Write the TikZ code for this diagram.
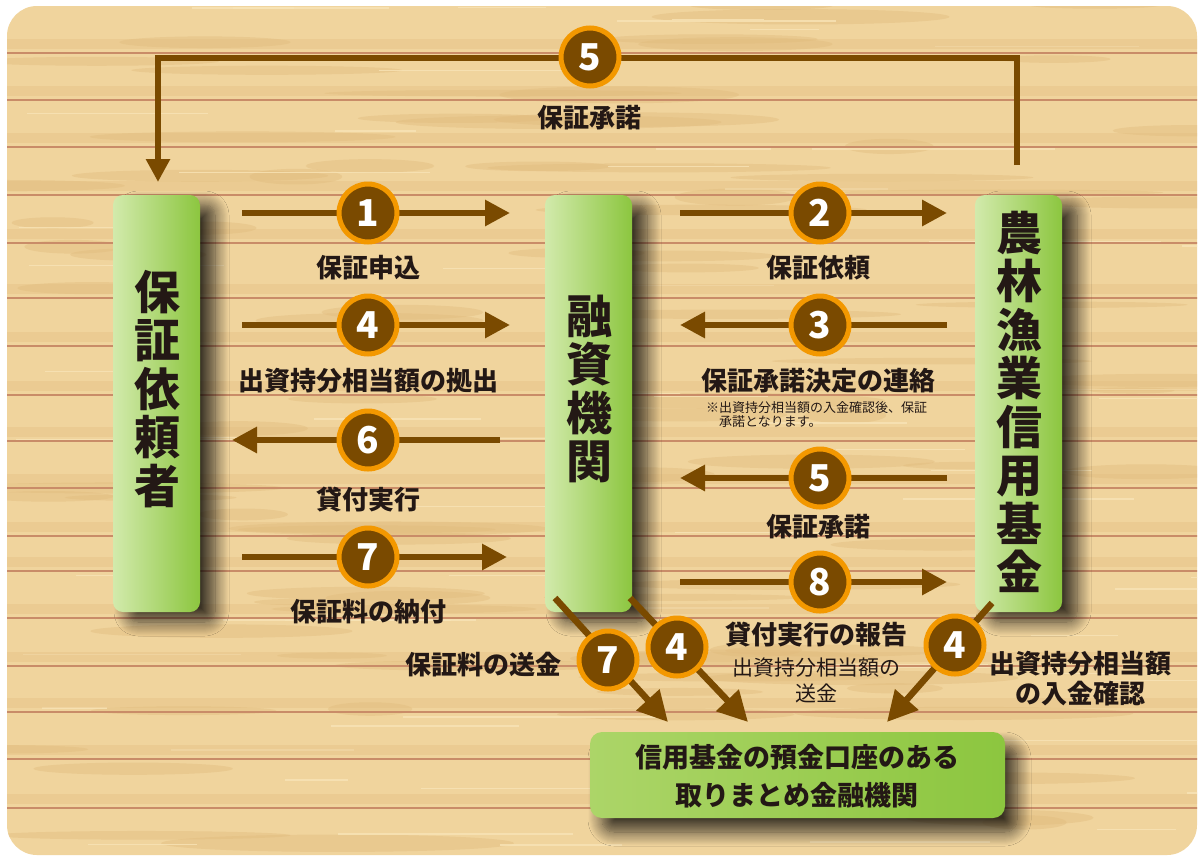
\documentclass[tikz,border=0pt]{standalone}
\usepackage{fontspec}
\newfontfamily\jp{Noto Sans CJK JP}
\usetikzlibrary{arrows.meta,shadows.blur}
\definecolor{wood}{RGB}{240,212,157}
\definecolor{woodd}{RGB}{226,188,126}
\definecolor{woodl}{RGB}{248,228,182}
\definecolor{seam}{RGB}{201,140,104}
\definecolor{brn}{RGB}{122,74,0}
\definecolor{org}{RGB}{243,152,0}
\definecolor{ink}{RGB}{35,24,21}
\definecolor{gL}{RGB}{210,234,172}
\definecolor{gM}{RGB}{236,245,218}
\definecolor{gR}{RGB}{140,198,63}
\definecolor{gB}{RGB}{172,213,104}
\tikzset{
 arr/.style={draw=brn, line width=6pt, -{Triangle[length=25pt,width=25pt]}},
 darr/.style={draw=brn, line width=6.5pt, -{Triangle[length=30pt,width=30pt]}},
 num/.style={circle, fill=brn, draw=org, line width=5pt, minimum size=58pt, inner sep=0pt, text=white, font=\jp\bfseries\fontsize{37}{37}\selectfont},
 lbl/.style={text=ink, inner sep=0pt, font=\jp\bfseries\fontsize{26}{30}\selectfont, align=center},
 small/.style={text=ink, inner sep=0pt, anchor=west, font=\jp\fontsize{13}{15}\selectfont},
 sublbl/.style={text=ink, inner sep=0pt, font=\jp\fontsize{21}{26}\selectfont, align=center},
 vbox/.style={rounded corners=10pt, left color=gL, right color=gR, minimum width=87pt, minimum height=417pt, inner sep=0pt,
   blur shadow={shadow xshift=15pt, shadow yshift=-10pt, shadow opacity=75, shadow blur steps=14, shadow blur radius=14pt}},
 hbox/.style={rounded corners=12pt, left color=gB, middle color=gM, right color=gR, minimum width=415pt, minimum height=86pt, inner sep=0pt,
   blur shadow={shadow xshift=12pt, shadow yshift=-14pt, shadow opacity=75, shadow blur steps=14, shadow blur radius=14pt}},
 vtext/.style={text=ink, inner sep=0pt, font=\jp\bfseries\fontsize{46}{48.5}\selectfont, align=center},
 btext/.style={text=ink, inner sep=0pt, font=\jp\bfseries\fontsize{27}{38}\selectfont, align=center}
}
\begin{document}
\begin{tikzpicture}[x=1pt,y=-1pt]
\useasboundingbox (0,0) rectangle (1198,857);
\fill[white] (0,0) rectangle (1198,857);
% wooden background
\begin{scope}
\clip[rounded corners=30pt] (7,6) rectangle (1197,855);
\fill[wood] (0,0) rectangle (1198,857);
\pgfmathsetseed{11}
\foreach \i in {1,...,90}{
  \pgfmathsetmacro\bx{rnd*1200}
  \pgfmathsetmacro\by{rnd*857}
  \pgfmathsetmacro\bw{40+rnd*140}
  \pgfmathsetmacro\bh{3+rnd*6}
  \fill[woodd,opacity=0.45] (\bx,\by) ellipse [x radius=\bw, y radius=\bh];
}
\foreach \i in {1,...,70}{
  \pgfmathsetmacro\bx{rnd*1200}
  \pgfmathsetmacro\by{rnd*857}
  \pgfmathsetmacro\bw{60+rnd*200}
  \draw[woodl,line width=1.5pt,opacity=0.8] (\bx,\by) -- ++(\bw,0);
}
\foreach \y in {53,100,147,195,243,298,346,395,441,488,536,571,618,666,712,759,808}{
  \fill[woodd,opacity=0.35] (0,\y-14) rectangle (1198,\y-4);
  \draw[seam,line width=2.5pt] (0,\y) -- (1198,\y);
}
\end{scope}

% boxes
\node[vbox] (L) at (156.5,403.5) {};
\node[vbox] (M) at (588.5,403.5) {};
\node[vbox] (R) at (1018.5,403.5) {};
\node[hbox] (B) at (797.5,775) {};
\node[vtext] (Lt) at (157,389) {保\\証\\依\\頼\\者};
\node[vtext] (Mt) at (589,389) {融\\資\\機\\関};
\node[vtext] (Rt) at (1019,402) {農\\林\\漁\\業\\信\\用\\基\\金};
\node[btext] (Bt) at (797,776) {信用基金の預金口座のある\\取りまとめ金融機関};

% arrow end points
\coordinate (a1s) at (242,213); \coordinate (a1e) at (510,213);
\coordinate (a2s) at (680,213); \coordinate (a2e) at (947,213);
\coordinate (a4s) at (242,325); \coordinate (a4e) at (510,325);
\coordinate (a3s) at (947,325); \coordinate (a3e) at (680,325);
\coordinate (a6s) at (500,440); \coordinate (a6e) at (232,440);
\coordinate (a5s) at (947,478); \coordinate (a5e) at (680,478);
\coordinate (a7s) at (242,557); \coordinate (a7e) at (507,557);
\coordinate (a8s) at (680,582); \coordinate (a8e) at (947,582);
\coordinate (t0) at (1017,165); \coordinate (t1) at (1017,58);
\coordinate (t2) at (158,58);   \coordinate (t3) at (158,182);
\coordinate (d7s) at (555,598); \coordinate (d7e) at (668,722);
\coordinate (d4s) at (630,598); \coordinate (d4e) at (748,722);
\coordinate (r4s) at (992,603); \coordinate (r4e) at (887,722);

\draw[arr] (a1s) -- (a1e);
\draw[arr] (a2s) -- (a2e);
\draw[arr] (a4s) -- (a4e);
\draw[arr] (a3s) -- (a3e);
\draw[arr] (a6s) -- (a6e);
\draw[arr] (a5s) -- (a5e);
\draw[arr] (a7s) -- (a7e);
\draw[arr] (a8s) -- (a8e);
\draw[arr,-{Triangle[length=23pt,width=23pt]}] (t0) -- (t1) -- (t2) -- (t3);
\draw[darr] (d7s) -- (d7e);
\draw[darr] (d4s) -- (d4e);
\draw[darr] (r4s) -- (r4e);

% numbered circles
\node[num] (n1) at (368,213) {1};
\node[num] (n2) at (820,213) {2};
\node[num] (n4a) at (368,325) {4};
\node[num] (n3) at (820,325) {3};
\node[num] (n6) at (368,440) {6};
\node[num] (n5b) at (820,478) {5};
\node[num] (n7a) at (368,557) {7};
\node[num] (n8) at (820,582) {8};
\node[num] (n5a) at (590,57) {5};
\node[num] (n7b) at (608,660) {7};
\node[num] (n4b) at (677,647) {4};
\node[num] (n4c) at (955,645) {4};

% labels
\node[lbl] (l5a) at (589,118) {保証承諾};
\node[lbl] (l1) at (368,268) {保証申込};
\node[lbl] (l2) at (818,268) {保証依頼};
\node[lbl] (l4a) at (368,381) {出資持分相当額の拠出};
\node[lbl] (l3) at (818,381) {保証承諾決定の連絡};
\node[small] (nt1) at (706,408) {※出資持分相当額の入金確認後、保証};
\node[small] (nt2) at (719,422) {承諾となります。};
\node[lbl] (l6) at (368,500) {貸付実行};
\node[lbl] (l5b) at (818,527) {保証承諾};
\node[lbl] (l7a) at (368,612) {保証料の納付};
\node[lbl] (l8) at (816,635) {貸付実行の報告};
\node[sublbl] (l8s) at (816,680) {出資持分相当額の\\送金};
\node[lbl] (l7b) at (483,665) {保証料の送金};
\node[lbl] (l4c) at (1080,679) {出資持分相当額\\の入金確認};
\end{tikzpicture}
\end{document}
